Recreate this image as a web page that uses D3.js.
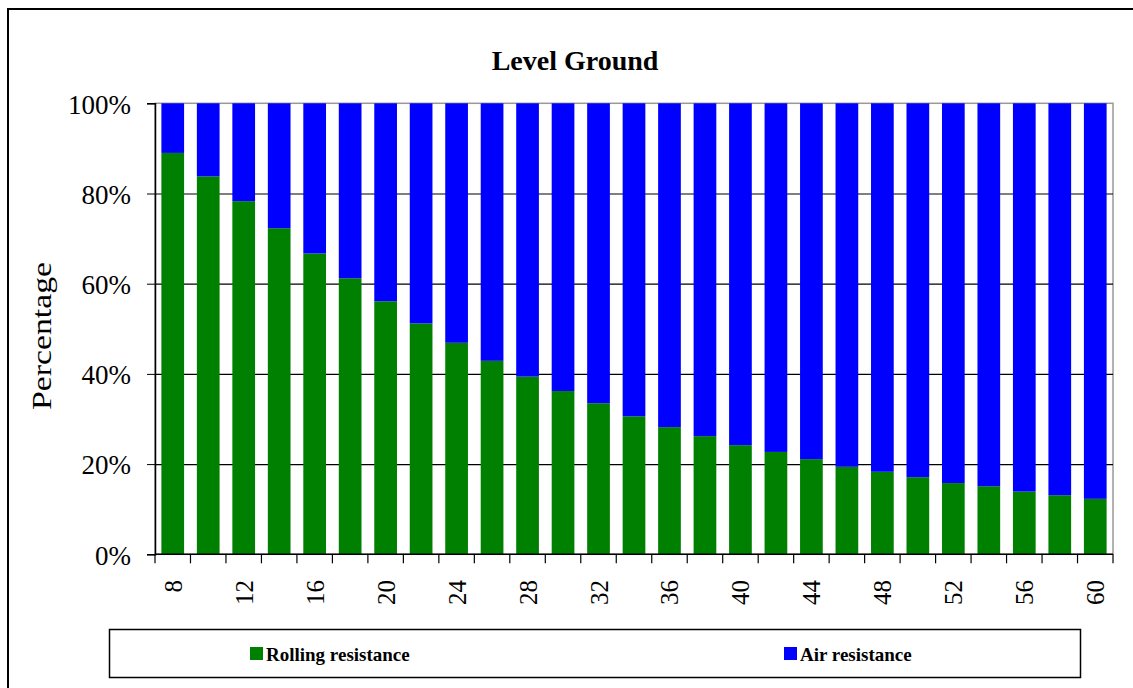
<!DOCTYPE html>
<meta charset="utf-8">
<style>
body { margin: 0; background: #fff; }
svg text { font-family: "Liberation Serif", "Times New Roman", serif !important; fill: #000; }
.yaxis text { font-size: 27px; }
.yaxis line { stroke: #000; }
.yaxis path { stroke: #000; }
.grid line { stroke: #000; stroke-width: 1.2; }
.grid path { display: none; }
</style>
<body>
<div id="chart"></div>
<script src="https://cdn.jsdelivr.net/npm/d3@7"></script>
<script>

// vitesses (abscisses)
var speeds = [8, 10, 12, 14, 16, 18, 20, 22, 24, 26, 28, 30, 32, 34, 36, 38, 40, 42, 44, 46, 48, 50, 52, 54, 56, 58, 60];
// part de la résistance au roulement (%)
var rolling = [89.0, 83.8, 78.3, 72.3, 66.7, 61.2, 56.1, 51.2, 46.9, 42.9, 39.4, 36.2, 33.5, 30.6, 28.2, 26.2, 24.2, 22.7, 21.1, 19.4, 18.3, 17.1, 15.8, 15.1, 13.9, 13.1, 12.3];
// part de la résistance de l'air (%)
var air = [11.0, 16.2, 21.7, 27.7, 33.3, 38.8, 43.9, 48.8, 53.1, 57.1, 60.6, 63.8, 66.5, 69.4, 71.8, 73.8, 75.8, 77.3, 78.9, 80.6, 81.7, 82.9, 84.2, 84.9, 86.1, 86.9, 87.7];
var seriesNames = ["Rolling resistance", "Air resistance"];
var seriesColors = ["#008000", "#0000ff"];
var yTicks = [0, 0.2, 0.4, 0.6, 0.8, 1];
var xLabels = [8, 12, 16, 20, 24, 28, 32, 36, 40, 44, 48, 52, 56, 60];

var largeur = 1133;
var hauteur = 688;
var plot = {left: 155, right: 1113, top: 103.3, bottom: 554.3};
var serif = "'Liberation Serif', 'Times New Roman', serif";

const svg = d3.select("#chart")
    .append("svg")
        .attr("width", largeur)
        .attr("height", hauteur)
        .style("display", "block");

// cadre extérieur
svg.append("rect")
    .attr("x", 8).attr("y", 9)
    .attr("width", largeur + 20).attr("height", hauteur + 20)
    .attr("fill", "#fff")
    .attr("stroke", "#000")
    .attr("stroke-width", 2);

// tableau pour d3.stack
var table = speeds.map(function(s, i) {
    return {speed: s, "Rolling resistance": rolling[i], "Air resistance": air[i]};
});
var stacked = d3.stack()
    .keys(seriesNames)
    .offset(d3.stackOffsetExpand)(table);

var x = d3.scaleBand()
    .domain(speeds)
    .range([plot.left, plot.right])
    .paddingInner(0.36)
    .paddingOuter(0.18);
var y = d3.scaleLinear()
    .domain([0, 1])
    .range([plot.bottom, plot.top]);

// titre
svg.append("text")
    .attr("x", 575)
    .attr("y", 70)
    .attr("text-anchor", "middle")
    .attr("font-family", serif)
    .style("font-size", "28px")
    .style("font-weight", "bold")
    .text("Level Ground");

// bordure grise de la zone de tracé
svg.append("rect")
    .attr("x", plot.left).attr("y", plot.top)
    .attr("width", plot.right - plot.left)
    .attr("height", plot.bottom - plot.top)
    .attr("fill", "none")
    .attr("stroke", "#999")
    .attr("stroke-width", 1.5);

// quadrillage
svg.append("g")
    .attr("class", "grid")
    .attr("transform", "translate(" + plot.left + ",0)")
    .call(d3.axisLeft(y)
        .tickValues([0.2, 0.4, 0.6, 0.8])
        .tickSize(-(plot.right - plot.left))
        .tickFormat(""));

// barres empilées
svg.append("g")
    .selectAll("g")
    .data(stacked)
    .enter().append("g")
        .attr("fill", function(d, i) { return seriesColors[i]; })
    .selectAll("rect")
    .data(function(d) { return d; })
    .enter().append("rect")
        .attr("x", function(d) { return x(d.data.speed); })
        .attr("y", function(d) { return y(d[1]); })
        .attr("width", x.bandwidth())
        .attr("height", function(d) { return y(d[0]) - y(d[1]); });

// axe des ordonnées
svg.append("g")
    .attr("class", "yaxis")
    .attr("transform", "translate(" + plot.left + ",0)")
    .call(d3.axisLeft(y)
        .tickValues(yTicks)
        .tickSize(8)
        .tickPadding(16)
        .tickFormat(d3.format(".0%")))
    .call(function(g) {
        g.attr("font-family", serif).attr("font-size", 27);
        g.select(".domain").attr("stroke-width", 1.5);
        g.selectAll("text").attr("dy", "0.36em");
    });

// axe des abscisses : traits entre les catégories
var step = x.step();
var boundaries = d3.range(speeds.length + 1).map(function(i) { return plot.left + i * step; });
var xg = svg.append("g").attr("font-family", serif);
xg.append("line")
    .attr("x1", plot.left).attr("x2", plot.right)
    .attr("y1", plot.bottom).attr("y2", plot.bottom)
    .attr("stroke", "#000")
    .attr("stroke-width", 1.5);
xg.selectAll("line.tick")
    .data(boundaries)
    .enter().append("line")
        .attr("class", "tick")
        .attr("x1", function(d) { return d; })
        .attr("x2", function(d) { return d; })
        .attr("y1", plot.bottom)
        .attr("y2", plot.bottom + 9)
        .attr("stroke", "#000")
        .attr("stroke-width", 1.2);
xg.selectAll("text")
    .data(xLabels)
    .enter().append("text")
        .attr("transform", function(d) {
            return "translate(" + (x(d) + x.bandwidth() / 2 + 9) + "," + 580 + ") rotate(-90)";
        })
        .attr("text-anchor", "end")
        .style("font-size", "25px")
        .text(function(d) { return d; });

// titre de l'axe Y
svg.append("text")
    .attr("transform", "translate(51,336) rotate(-90)")
    .attr("text-anchor", "middle")
    .attr("textLength", 148)
    .attr("lengthAdjust", "spacingAndGlyphs")
    .attr("font-family", serif)
    .style("font-size", "28px")
    .text("Percentage");

// légende
svg.append("rect")
    .attr("x", 109.5).attr("y", 629.5)
    .attr("width", 971).attr("height", 48)
    .attr("fill", "#fff")
    .attr("stroke", "#000")
    .attr("stroke-width", 1.5);
var legendX = [250, 784];
var leg = svg.append("g")
    .attr("font-family", serif)
    .selectAll("g")
    .data(seriesNames)
    .enter().append("g")
        .attr("transform", function(d, i) { return "translate(" + legendX[i] + ",647)"; });
leg.append("rect")
    .attr("width", 13).attr("height", 13)
    .attr("fill", function(d, i) { return seriesColors[i]; });
leg.append("text")
    .attr("x", 16)
    .attr("y", 14)
    .style("font-size", "19px")
    .style("font-weight", "bold")
    .text(function(d) { return d; });

</script>
</body>
